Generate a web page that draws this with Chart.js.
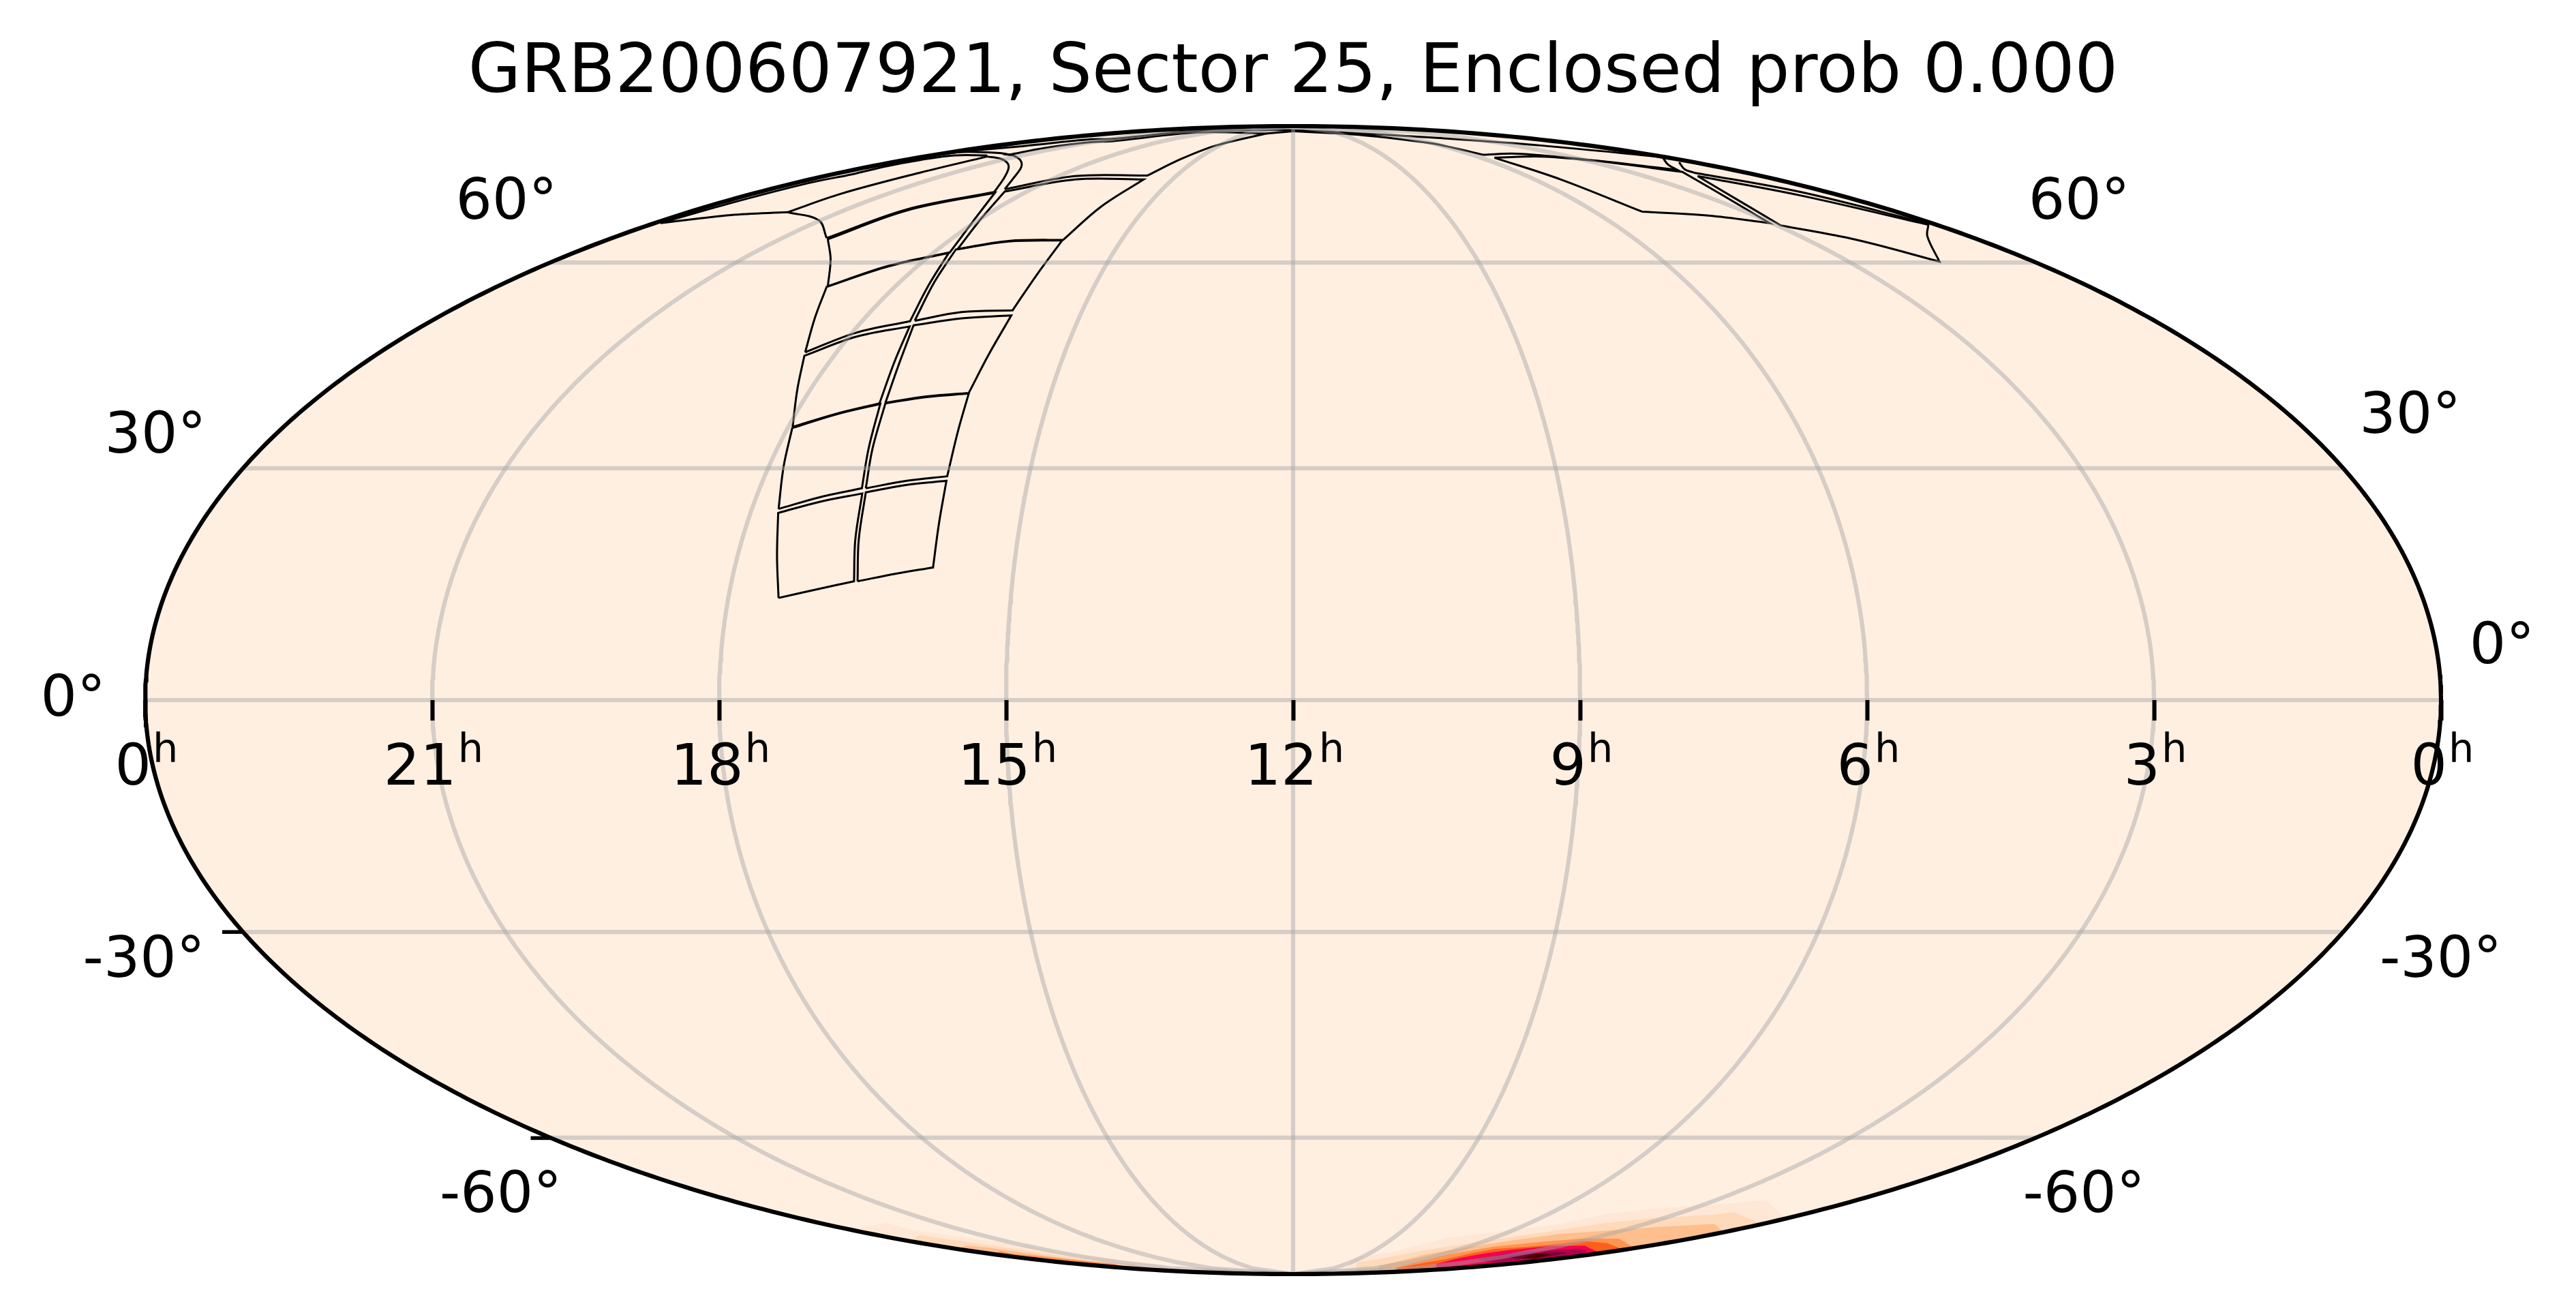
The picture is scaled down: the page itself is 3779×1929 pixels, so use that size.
<!DOCTYPE html>
<html><head><meta charset="utf-8">
<style>html,body{margin:0;padding:0;background:#fff}canvas{display:block}</style>
<script src="https://cdn.jsdelivr.net/npm/chart.js@4"></script>
</head><body><canvas id="c" width="3779" height="1929"></canvas>
<script>
const chartTitle = 'GRB200607921, Sector 25, Enclosed prob 0.000';
const raTicks = [24,21,18,15,12,9,6,3,0];
const raTickDigits = ['0','21','18','15','12','9','6','3','0'];
const raTickSuffix = 'h';
const raGrid = [3,6,9,12,15,18,21];
const decGrid = [-60,-30,0,30,60];
const decTickLabels = ['0°','0°','30°','30°','60°','60°','-30°','-30°','-60°','-60°'];
const decTickH = [24.76,-0.63,23.90,0.33,20.23,3.79,24.02,0.01,20.29,3.74];
const decTickV = [0.006,0.097,0.464,0.499,0.871,0.871,-0.449,-0.449,-0.859,-0.859];
const leftTickSegs = [[[23.195,-0.404],[22.98,-0.404]],[[19.97,-0.763],[19.757,-0.763]]];

// sky footprint outlines: [hours on the map plane, height on the map plane, corner flag]
const ccdA=[[17.379,.178,1],[16.978,.193],[16.590,.207,1],[16.577,.279],[16.504,.360,1],[16.937,.346],[17.383,.326,1],[17.395,.251],[17.379,.178,1]];
const ccdB=[[16.553,.207,1],[16.160,.220],[15.764,.231,1],[15.702,.308],[15.624,.382,1],[16.038,.375],[16.467,.362,1],[16.541,.279],[16.553,.207,1]];
const ccdC=[[17.379,.333,1],[16.937,.354],[16.508,.369,1],[16.438,.438],[16.316,.516,1],[16.774,.498],[17.236,.474,1],[17.326,.407],[17.379,.333,1]];
const ccdD=[[16.467,.369,1],[16.038,.382],[15.616,.390,1],[15.506,.467],[15.391,.534,1],[15.833,.528],[16.262,.517,1],[16.397,.438],[16.467,.369,1]];
const ccdE=[[17.232,.476,1],[16.774,.499],[16.324,.517,1],[16.168,.589],[16.009,.651,1],[16.569,.633],[17.109,.600,1],[17.183,.541],[17.232,.476,1]];
const ccdF=[[16.262,.518,1],[15.833,.529],[15.391,.535,1],[15.179,.603],[14.946,.670,1],[15.465,.665],[15.968,.653,1],[16.119,.586],[16.262,.518,1]];
const ccdG=[[17.101,.606,1],[16.569,.640],[16.005,.660,1],[15.813,.722],[15.600,.779,1],[16.242,.755],[16.876,.720,1],[16.999,.666],[17.101,.606,1]];
const ccdH=[[15.956,.661,1],[15.465,.676],[14.933,.679,1],[14.688,.739],[14.414,.801,1],[14.974,.799],[15.526,.785,1],[15.751,.728],[15.956,.661,1]];
const ccdI=[[16.864,.721,1],[16.242,.756],[15.588,.780,1],[15.342,.835],[15.117,.884,1],[16.038,.853],[16.864,.803,1],[16.835,.768],[16.864,.721,1]];
const ccdJ=[[15.506,.786,1],[14.974,.800],[14.402,.802,1],[14.013,.859],[13.563,.907,1],[14.279,.907],[15.015,.886,1],[15.260,.839],[15.506,.786,1]];
const ccdK=[[16.876,.805,1],[16.038,.855],[15.126,.885,1],[15.031,.907],[14.977,.925],[14.984,.935],[15.055,.943],[15.198,.947,1],[15.898,.919],[16.730,.882],[17.285,.850,1],[16.958,.836],[16.876,.805,1]];
const ccdM=[[15.015,.890,1],[14.279,.913],[13.522,.914,1],[13.167,.943],[12.810,.966],[12.288,.987,1],[12.998,.989],[13.879,.974],[14.117,.972],[14.592,.962],[14.972,.950,1],[14.925,.949],[14.853,.941],[14.841,.929],[14.925,.909],[15.015,.890,1]];
const ccdL=[[17.285,.850,1],[17.878,.845],[18.614,.831,1],[17.878,.866],[17.06,.901],[16.611,.916],[16.255,.930],[15.898,.941],[15.542,.949],[15.198,.949,1]];
const stripN=[[16.017,.941,1],[15.732,.9505],[15.447,.955],[15.067,.953],[14.925,.949,1]];
const stripO=[[15.447,.956,1],[14.829,.965],[14.117,.977],[13.879,.978],[12.998,.992],[12.383,.993],[12.0,.993,1]];
const stripP=[[12.288,.987,1],[12.0,.991,1]];
const ccdP=[[9.896,.945,1],[9.201,.907],[8.352,.851,1],[7.657,.844],[7.019,.831,1],[7.463,.875],[7.927,.920,1],[8.815,.939],[9.394,.947],[9.896,.945,1]];
const ccdQ=[[12.0,.991,1],[11.266,.984],[10.553,.970],[10.321,.962],[10.012,.950,1],[9.665,.952],[9.008,.943],[7.985,.924,1],[8.081,.933],[8.139,.946,1],[9.394,.966],[10.553,.980],[11.266,.987],[12.0,.993,1]];
const ccdR=[[7.772,.913,1],[6.691,.879],[5.359,.828,1],[5.370,.808],[5.243,.764,1],[6.112,.802],[6.903,.827,1],[7.348,.871],[7.772,.913,1]];
const stripR=[[7.965,.937,1],[7.908,.925],[7.811,.919,1],[6.691,.885],[5.359,.830,1]];
const outlines=[ccdA,ccdB,ccdC,ccdD,ccdE,ccdF,ccdG,ccdH,ccdI,ccdJ,ccdK,ccdM,ccdL,stripN,stripO,stripP,ccdP,ccdQ,ccdR,stripR];

// probability map contours, lowest level first; only the upper edge of each is listed for the open ones
const heatColors=['#FEE7D4','#FED9BA','#FEBE8E','#FE9450','#FF5F1E','#F5004F','#B00050','#7A0030','#4A0000',
                  '#FEE7D4','#FED9BA','#FEBE8E','#FE9450'];
const heatOpen=[1,1,1,1,1,1,0,0,0,1,1,1,1];
const heatLevel1=[[11.5,-1.0],[11.337,-.970],[10.979,-.9622],[10.383,-.9364],[9.667,-.9224],[9.190,-.9125],[8.712,-.8946],[8.235,-.8866],[7.596,-.8786],[7.348,-.876],[7.06,-.871],[6.85,-.92]];
const heatLevel2=[[11.337,-.980],[10.979,-.970],[10.621,-.9582],[10.144,-.9463],[9.667,-.9344],[9.190,-.9224],[8.712,-.9105],[8.235,-.9025],[7.596,-.8965],[7.395,-.892],[7.1,-.94]];
const heatLevel3=[[11.098,-.9861],[10.621,-.9662],[10.144,-.9523],[9.667,-.9403],[9.190,-.9296],[8.712,-.9244],[8.235,-.9184],[7.596,-.9125],[7.5,-.96]];
const heatLevel4=[[10.931,-.9881],[10.383,-.9662],[9.905,-.9523],[9.428,-.9443],[8.951,-.9375],[8.593,-.9383],[8.474,-.9503],[8.4,-.97]];
const heatLevel5=[[10.908,-.9893],[10.621,-.9801],[10.383,-.9734],[10.144,-.9642],[9.905,-.9563],[9.428,-.9511],[8.951,-.9423],[8.712,-.9463],[8.593,-.9543],[8.5,-.98]];
const heatLevel6=[[10.502,-.9821],[10.263,-.9722],[10.001,-.9642],[9.715,-.9574],[9.309,-.9511],[8.951,-.9503],[8.832,-.9602],[8.75,-.99]];
const heatLevel7=[[10.096,-.9742],[9.715,-.9630],[9.381,-.9590],[9.046,-.9555],[8.927,-.9582],[8.951,-.9634],[9.309,-.9710],[9.667,-.9762],[9.905,-.9801]];
const heatLevel8=[[9.762,-.9694],[9.524,-.9642],[9.285,-.9622],[9.190,-.9614],[9.142,-.9642],[9.428,-.9722],[9.667,-.9742]];
const heatLevel9=[[9.619,-.9722],[9.476,-.9654],[9.357,-.9634],[9.309,-.9662],[9.476,-.9734]];
const heatWestA=[[16.61,-.93],[16.254,-.910],[16.017,-.922],[15.541,-.934],[14.829,-.950],[14.117,-.970],[13.404,-.983],[13.2,-1.0]];
const heatWestB=[[16.0,-.96],[15.898,-.932],[15.423,-.944],[14.829,-.958],[14.117,-.976],[13.641,-.983],[13.5,-1.0]];
const heatWestC=[[15.5,-.97],[15.423,-.950],[15.185,-.954],[14.591,-.968],[14.117,-.978],[13.8,-1.0]];
const heatWestD=[[15.1,-.97],[15.067,-.960],[14.924,-.965],[14.710,-.968],[14.354,-.974],[13.879,-.982],[13.7,-1.0]];
const heatShapes=[heatLevel1,heatLevel2,heatLevel3,heatLevel4,heatLevel5,heatLevel6,heatLevel7,heatLevel8,heatLevel9,heatWestA,heatWestB,heatWestC,heatWestD];

const LINE_BLACK='#000';
const pts=a=>a.map(p=>({x:p[0],y:p[1]}));
const floorV=u=>-Math.sqrt(Math.max(0,1-((u-12)/12)**2));
function heatPts(a,open){
  const r=a.map(p=>({x:p[0],y:Math.max(p[1],floorV(p[0]))}));
  if(open){const u0=a[a.length-1][0],u1=a[0][0];for(let i=0;i<=30;i++){const u=u0+(u1-u0)*i/30;r.push({x:u,y:floorV(u)});}}
  return r;
}
function outlinePts(a){const r=[];a.forEach(p=>{r.push({x:p[0],y:p[1]});if(p[2])r.push({x:p[0],y:p[1]});});return r;}
function decToV(d){const t=Math.PI*Math.sin(d*Math.PI/180);let th=d*Math.PI/180;for(let i=0;i<40;i++){th-=(2*th+Math.sin(2*th)-t)/(2+2*Math.cos(2*th));}return Math.sin(th);}
const ellipsePts=[];for(let i=0;i<=720;i++){const a=i/720*2*Math.PI;ellipsePts.push({x:12+12*Math.cos(a),y:Math.sin(a)});}
const base={type:'scatter',showLine:true,pointRadius:0,pointHoverRadius:0,clip:false,fill:false,tension:0};
const ds=[];
ds.push({...base,data:ellipsePts,backgroundColor:'#FEEFE1',borderColor:'rgba(0,0,0,0)',borderWidth:0,fill:'shape',order:100,label:'map'});
heatShapes.forEach((s,i)=>ds.push({...base,data:heatPts(s,heatOpen[i]),backgroundColor:heatColors[i],borderColor:'rgba(0,0,0,0)',borderWidth:0,fill:'shape',order:90-i,label:'heat'}));
outlines.forEach((o)=>ds.push({...base,data:outlinePts(o),borderColor:LINE_BLACK,borderWidth:3.0,tension:0.35,order:50,label:'footprint',borderJoinStyle:'miter'}));
const gridColor='rgba(165,165,165,0.46)';
raGrid.forEach(h=>{const d=[];for(let i=-100;i<=100;i++){const v=i/100;d.push({x:12+(h-12)*Math.sqrt(1-v*v),y:v});}
  ds.push({...base,data:d,borderColor:gridColor,borderWidth:6.2,order:20,label:'grid'});});
decGrid.forEach(dc=>{const v=decToV(dc),w=12*Math.sqrt(1-v*v);
  ds.push({...base,data:[{x:12-w,y:v},{x:12+w,y:v}],borderColor:gridColor,borderWidth:6.2,order:20,label:'grid'});});
leftTickSegs.forEach(s=>ds.push({...base,data:pts(s),borderColor:LINE_BLACK,borderWidth:5.5,order:5,label:'tick'}));
ds.push({...base,data:ellipsePts,borderColor:LINE_BLACK,borderWidth:6.2,order:1,label:'spine'});

const labelPlugin={id:'axisLabels',afterDraw(c){const x=c.ctx,sx=c.scales.x,sy=c.scales.y;x.save();x.fillStyle='#000';
  x.font='84px "DejaVu Sans"';x.textAlign='center';x.textBaseline='middle';
  decTickLabels.forEach((t,i)=>x.fillText(t,sx.getPixelForValue(decTickH[i])+1,sy.getPixelForValue(decTickV[i])+6));
  x.textAlign='left';x.textBaseline='alphabetic';const y0=sy.getPixelForValue(0);
  raTicks.forEach((v,i)=>{const d=raTickDigits[i];x.font='84px "DejaVu Sans"';const wd=x.measureText(d).width;
    x.font='59px "DejaVu Sans"';const wh=x.measureText(raTickSuffix).width;const left=sx.getPixelForValue(v)-(wd+wh+2)/2+2;
    x.font='84px "DejaVu Sans"';x.fillText(d,left,y0+124);
    x.font='59px "DejaVu Sans"';x.fillText(raTickSuffix,left+wd+2,y0+91);});
  x.restore();}};

new Chart(document.getElementById('c'),{type:'scatter',data:{datasets:ds},plugins:[labelPlugin],
 options:{responsive:false,devicePixelRatio:1,animation:false,events:[],
  layout:{padding:{left:213,right:198,top:0,bottom:60}},
  plugins:{legend:{display:false},tooltip:{enabled:false},
   title:{display:true,text:chartTitle,color:'#000',font:{family:'"DejaVu Sans"',size:100,weight:'normal',lineHeight:1.2},padding:{top:49,bottom:16}}},
  scales:{
   x:{type:'linear',min:0,max:24,reverse:true,position:{y:0},
      afterBuildTicks:s=>{s.ticks=raTicks.map(v=>({value:v}));},
      border:{display:false},
      grid:{drawOnChartArea:false,drawTicks:true,tickLength:30,tickWidth:6,tickColor:'#000',z:2},
      ticks:{display:false}},
   y:{type:'linear',min:-1,max:1,display:false}
  }}});
</script></body></html>
